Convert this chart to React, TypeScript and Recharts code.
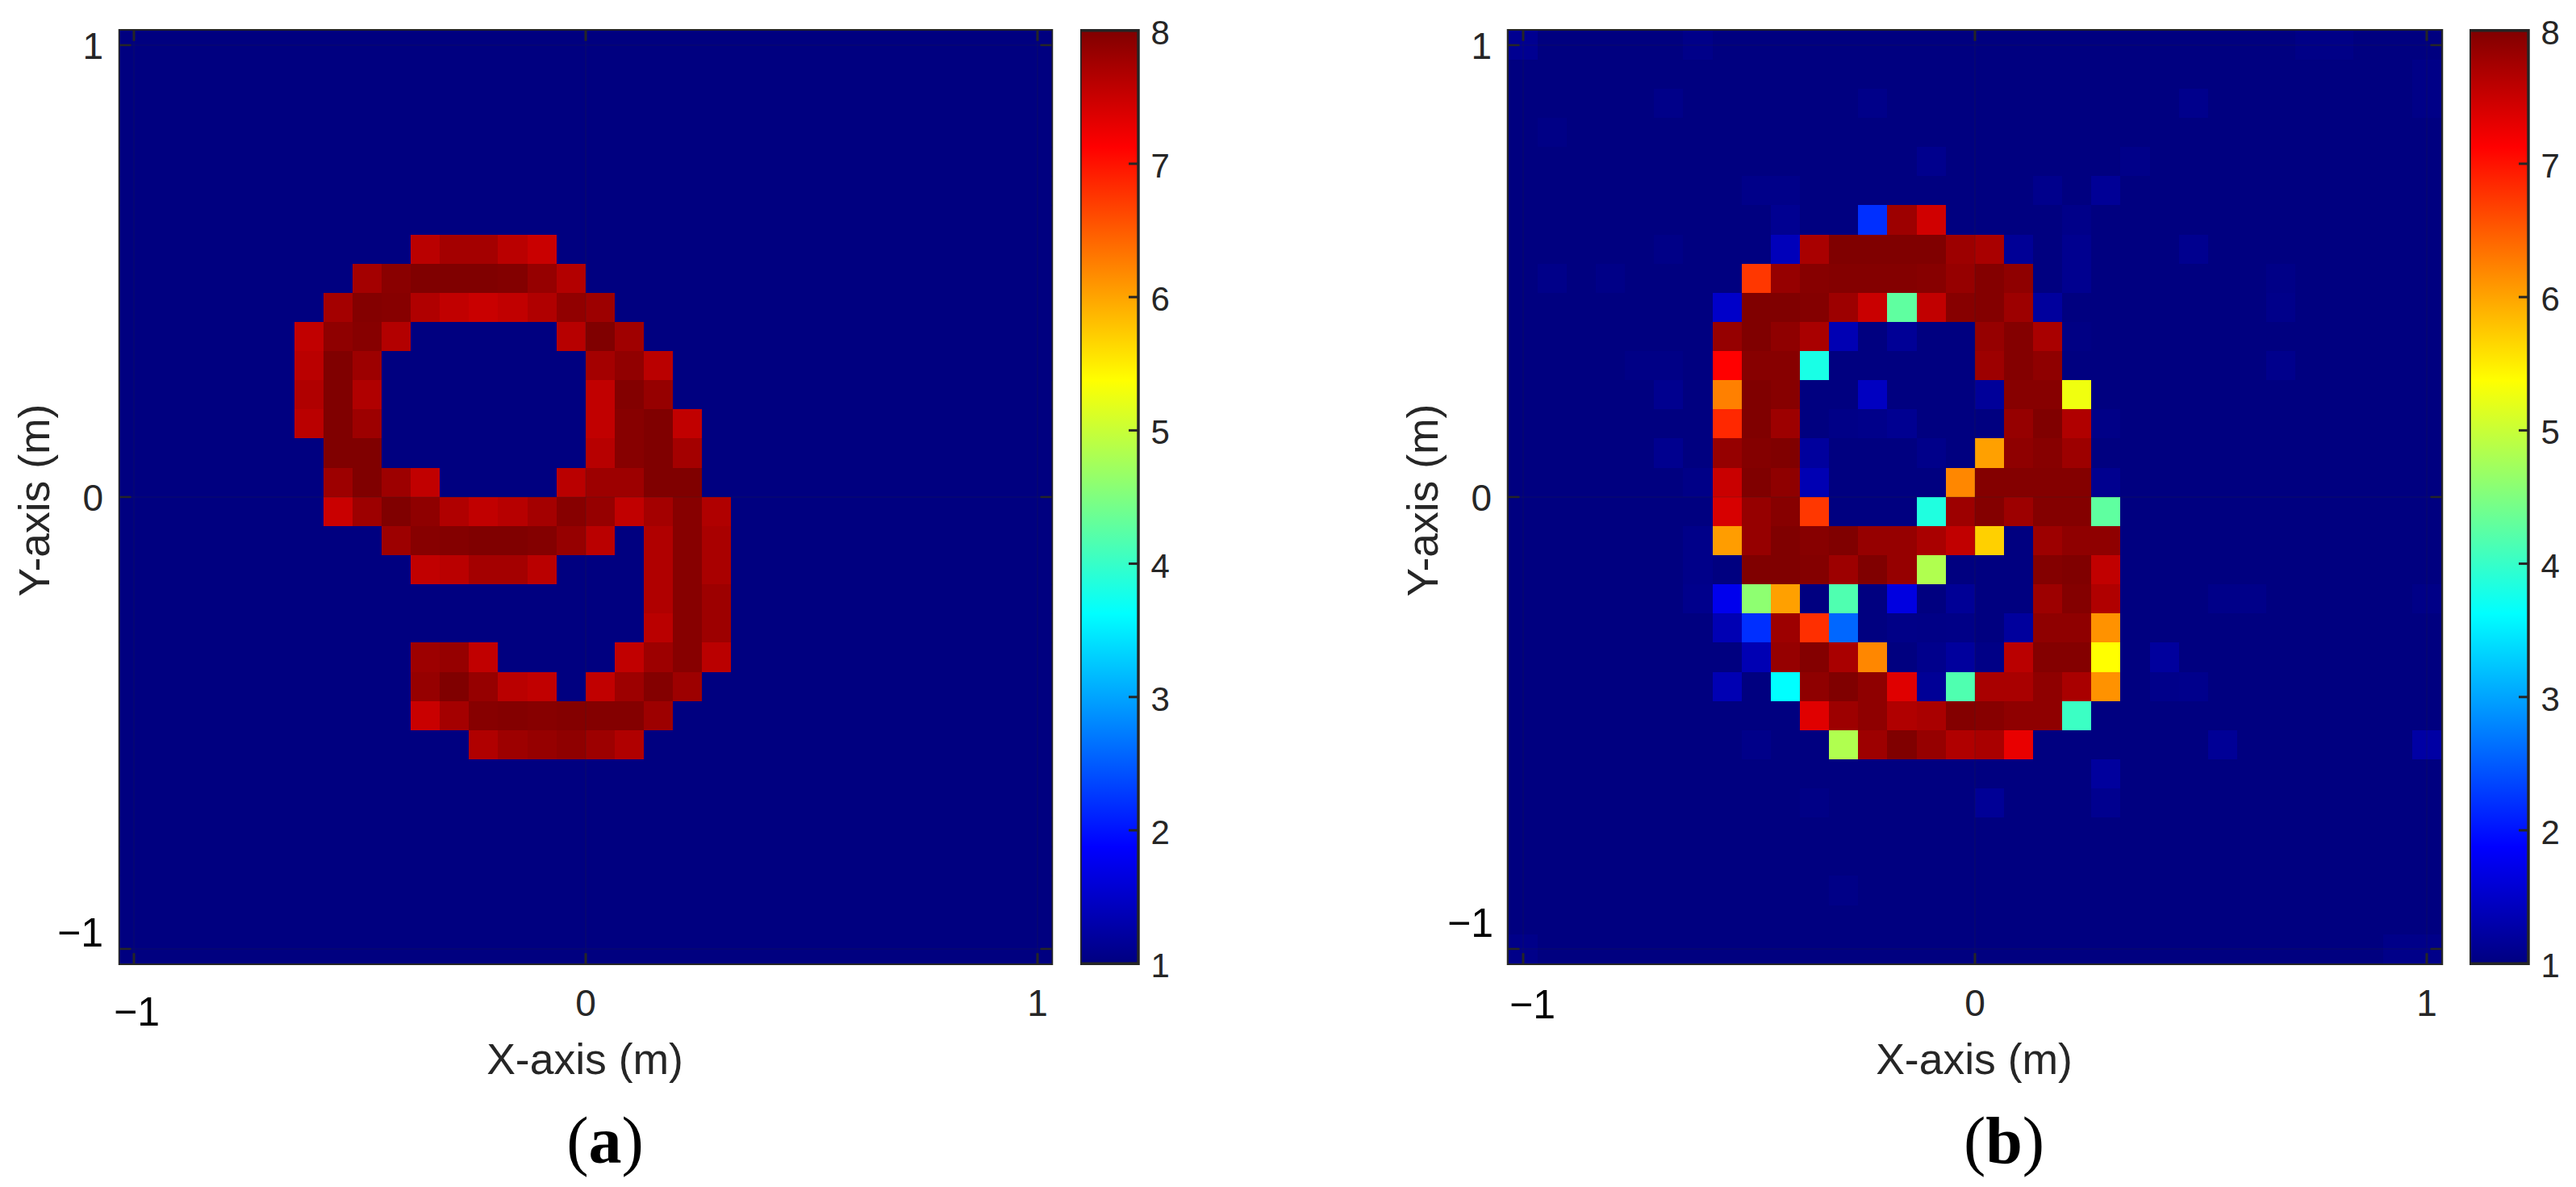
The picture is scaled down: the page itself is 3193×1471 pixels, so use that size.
import React from 'react'
import { ScatterChart, Scatter, XAxis, YAxis, BarChart, Bar, ReferenceArea } from 'recharts'

const PLOT_TOP = 37.7
const PLOT_BOTTOM = 1194.2
const PLOT_LEFT = 148.5
const PAGE_H = 1471
const INK = '#262626'

const axisTicks = [-1, 0, 1]
const colorTicks = [1, 2, 3, 4, 5, 6, 7, 8]
const colorRange = [{ name: 'c', range: [1, 8] }]

// panel (a): 32 x 32 pixels, top row first
const nineRows: number[][] = [
  [1,1,1,1,1,1,1,1, 1,1,1,1,1,1,1,1, 1,1,1,1,1,1,1,1, 1,1,1,1,1,1,1,1],
  [1,1,1,1,1,1,1,1, 1,1,1,1,1,1,1,1, 1,1,1,1,1,1,1,1, 1,1,1,1,1,1,1,1],
  [1,1,1,1,1,1,1,1, 1,1,1,1,1,1,1,1, 1,1,1,1,1,1,1,1, 1,1,1,1,1,1,1,1],
  [1,1,1,1,1,1,1,1, 1,1,1,1,1,1,1,1, 1,1,1,1,1,1,1,1, 1,1,1,1,1,1,1,1],
  [1,1,1,1,1,1,1,1, 1,1,1,1,1,1,1,1, 1,1,1,1,1,1,1,1, 1,1,1,1,1,1,1,1],
  [1,1,1,1,1,1,1,1, 1,1,1,1,1,1,1,1, 1,1,1,1,1,1,1,1, 1,1,1,1,1,1,1,1],
  [1,1,1,1,1,1,1,1, 1,1,1,1,1,1,1,1, 1,1,1,1,1,1,1,1, 1,1,1,1,1,1,1,1],
  [1,1,1,1,1,1,1,1, 1,1,7.6,7.75,7.75,7.6,7.5,1, 1,1,1,1,1,1,1,1, 1,1,1,1,1,1,1,1],
  [1,1,1,1,1,1,1,1, 7.75,7.93,8,8,8,7.98,7.85,7.65, 1,1,1,1,1,1,1,1, 1,1,1,1,1,1,1,1],
  [1,1,1,1,1,1,1,7.75, 7.97,7.95,7.67,7.55,7.5,7.55,7.67,7.88, 7.8,1,1,1,1,1,1,1, 1,1,1,1,1,1,1,1],
  [1,1,1,1,1,1,7.55,7.9, 7.95,7.65,1,1,1,1,1,7.62, 8,7.78,1,1,1,1,1,1, 1,1,1,1,1,1,1,1],
  [1,1,1,1,1,1,7.6,8, 7.8,1,1,1,1,1,1,1, 7.75,7.88,7.6,1,1,1,1,1, 1,1,1,1,1,1,1,1],
  [1,1,1,1,1,1,7.67,8, 7.67,1,1,1,1,1,1,1, 7.55,7.98,7.85,1,1,1,1,1, 1,1,1,1,1,1,1,1],
  [1,1,1,1,1,1,7.6,8, 7.8,1,1,1,1,1,1,1, 7.55,7.95,8,7.55,1,1,1,1, 1,1,1,1,1,1,1,1],
  [1,1,1,1,1,1,1,8, 8,1,1,1,1,1,1,1, 7.62,7.95,8,7.75,1,1,1,1, 1,1,1,1,1,1,1,1],
  [1,1,1,1,1,1,1,7.8, 8,7.8,7.55,1,1,1,1,7.6, 7.8,7.8,8,8,1,1,1,1, 1,1,1,1,1,1,1,1],
  [1,1,1,1,1,1,1,7.5, 7.8,8,7.9,7.67,7.55,7.62,7.75,7.95, 7.85,7.55,7.75,7.95,7.67,1,1,1, 1,1,1,1,1,1,1,1],
  [1,1,1,1,1,1,1,1, 1,7.8,7.95,7.97,8,8,7.97,7.85, 7.6,1,7.67,7.95,7.72,1,1,1, 1,1,1,1,1,1,1,1],
  [1,1,1,1,1,1,1,1, 1,1,7.55,7.6,7.75,7.75,7.6,1, 1,1,7.67,7.95,7.72,1,1,1, 1,1,1,1,1,1,1,1],
  [1,1,1,1,1,1,1,1, 1,1,1,1,1,1,1,1, 1,1,7.67,7.95,7.8,1,1,1, 1,1,1,1,1,1,1,1],
  [1,1,1,1,1,1,1,1, 1,1,1,1,1,1,1,1, 1,1,7.6,7.95,7.8,1,1,1, 1,1,1,1,1,1,1,1],
  [1,1,1,1,1,1,1,1, 1,1,7.8,7.85,7.55,1,1,1, 1,7.55,7.8,7.95,7.6,1,1,1, 1,1,1,1,1,1,1,1],
  [1,1,1,1,1,1,1,1, 1,1,7.85,8,7.85,7.6,7.55,1, 7.55,7.8,7.97,7.8,1,1,1,1, 1,1,1,1,1,1,1,1],
  [1,1,1,1,1,1,1,1, 1,1,7.5,7.75,7.95,7.97,7.95,7.97, 7.97,7.97,7.8,1,1,1,1,1, 1,1,1,1,1,1,1,1],
  [1,1,1,1,1,1,1,1, 1,1,1,1,7.67,7.8,7.85,7.9, 7.8,7.67,1,1,1,1,1,1, 1,1,1,1,1,1,1,1],
  [1,1,1,1,1,1,1,1, 1,1,1,1,1,1,1,1, 1,1,1,1,1,1,1,1, 1,1,1,1,1,1,1,1],
  [1,1,1,1,1,1,1,1, 1,1,1,1,1,1,1,1, 1,1,1,1,1,1,1,1, 1,1,1,1,1,1,1,1],
  [1,1,1,1,1,1,1,1, 1,1,1,1,1,1,1,1, 1,1,1,1,1,1,1,1, 1,1,1,1,1,1,1,1],
  [1,1,1,1,1,1,1,1, 1,1,1,1,1,1,1,1, 1,1,1,1,1,1,1,1, 1,1,1,1,1,1,1,1],
  [1,1,1,1,1,1,1,1, 1,1,1,1,1,1,1,1, 1,1,1,1,1,1,1,1, 1,1,1,1,1,1,1,1],
  [1,1,1,1,1,1,1,1, 1,1,1,1,1,1,1,1, 1,1,1,1,1,1,1,1, 1,1,1,1,1,1,1,1],
  [1,1,1,1,1,1,1,1, 1,1,1,1,1,1,1,1, 1,1,1,1,1,1,1,1, 1,1,1,1,1,1,1,1],
]

// panel (b): reconstruction, with faint noise in the background
const reconRows: number[][] = [
  [1.12,1,1,1,1,1,1.06,1, 1,1,1,1,1,1,1,1, 1,1,1,1,1,1,1,1, 1,1,1,1.05,1.05,1,1,1],
  [1,1,1,1,1,1,1,1, 1,1,1,1,1,1,1,1, 1,1,1,1,1,1,1,1, 1,1,1,1,1,1,1,1.05],
  [1,1,1,1,1,1.06,1,1, 1,1,1,1,1.06,1,1,1, 1,1,1,1,1,1,1,1.08, 1,1,1,1,1,1,1,1.05],
  [1,1.04,1,1,1,1,1,1, 1,1,1,1,1,1,1,1, 1,1,1,1,1,1,1,1, 1,1,1,1,1,1,1,1],
  [1,1,1,1,1,1,1,1, 1,1,1,1,1,1,1.09,1, 1,1,1,1,1,1.06,1,1, 1,1,1,1,1,1,1,1],
  [1,1,1,1,1,1,1,1, 1.06,1.06,1,1,1,1,1,1, 1,1,1.08,1,1.15,1,1,1, 1,1,1,1,1,1,1,1],
  [1,1,1,1,1,1,1,1, 1,1.12,1,1,2.2,7.8,7.45,1, 1,1,1,1.06,1,1,1,1, 1,1,1,1,1,1,1,1],
  [1,1,1,1,1,1.05,1,1, 1,1.4,7.72,8,8,8,8,7.8, 7.72,1.15,1,1.1,1,1,1,1.1, 1,1,1,1,1,1,1,1],
  [1,1.06,1,1.05,1,1,1,1, 6.75,7.85,7.95,7.97,7.97,7.97,7.95,7.85, 7.97,7.9,1,1.1,1,1,1,1, 1,1,1.05,1,1,1,1,1],
  [1,1,1,1,1,1,1,1.5, 8,8,7.97,7.8,7.5,4.28,7.55,7.95, 7.97,7.8,1.2,1,1,1,1,1, 1,1,1.07,1,1,1,1,1],
  [1,1,1,1,1,1,1,7.85, 8,7.9,7.72,1.35,1,1.15,1,1, 7.85,7.97,7.72,1.03,1,1,1,1, 1,1,1,1,1,1,1,1],
  [1,1,1,1,1.04,1.04,1,7.125, 7.95,7.95,3.8,1,1,1,1,1, 7.8,7.97,7.9,1,1,1,1,1, 1,1,1.08,1,1,1,1,1],
  [1,1,1,1,1,1.1,1,6.25, 8,7.95,1,1,1.45,1,1,1, 1.17,7.95,7.95,5.27,1,1,1,1, 1,1,1,1,1,1,1,1],
  [1,1,1,1,1,1,1,6.85, 8,7.8,1,1.05,1.07,1.12,1,1, 1,7.85,8,7.67,1.05,1,1,1, 1,1,1,1,1,1,1,1],
  [1,1,1,1,1,1.1,1,7.85, 7.97,8,1.2,1,1,1,1.07,1, 6.03,7.9,7.95,7.8,1,1,1,1, 1,1,1,1,1,1,1,1],
  [1,1,1,1,1,1,1.05,7.5, 8,7.9,1.35,1,1,1,1,6.2, 7.97,7.97,7.97,7.97,1.1,1,1,1, 1,1,1,1,1,1,1,1],
  [1,1,1,1,1,1,1,7.4, 7.85,7.95,6.75,1,1,1,3.84,7.8, 7.97,7.8,7.97,7.97,4.28,1,1,1, 1,1,1,1,1,1,1,1],
  [1,1,1,1,1,1,1.06,6.05, 7.85,8,7.95,8,7.85,7.85,7.72,7.55, 5.7,1,7.8,7.9,7.9,1,1,1, 1,1,1,1,1,1,1,1],
  [1,1,1,1,1,1,1.06,1, 8,8,7.97,7.8,8,7.85,4.83,1, 1,1,7.97,8,7.55,1,1,1, 1,1,1,1,1,1,1,1],
  [1,1,1,1,1,1,1.08,1.75, 4.6,6.03,1,4.17,1,1.66,1,1.15, 1,1,7.8,7.97,7.67,1,1,1, 1.06,1.06,1,1,1,1,1,1.05],
  [1,1,1,1,1,1,1,1.35, 2.2,7.8,6.8,2.58,1,1.05,1.04,1.05, 1,1.2,7.9,7.9,6.12,1,1,1, 1,1,1,1,1,1,1,1],
  [1,1,1,1,1,1,1,1, 1.35,7.85,7.97,7.72,6.2,1,1.08,1.2, 1.04,7.6,7.97,7.97,5.375,1,1.2,1, 1,1,1,1,1,1,1,1],
  [1,1,1,1,1,1,1,1.35, 1,3.625,7.9,8,7.9,7.34,1.15,4.17, 7.72,7.72,7.9,7.72,6.12,1,1.07,1.08, 1,1,1,1,1,1,1,1],
  [1,1,1,1,1,1,1,1, 1,1,7.34,7.8,7.9,7.67,7.72,7.97, 7.95,7.9,7.9,4.03,1,1,1,1, 1,1,1,1,1,1,1,1],
  [1,1,1,1,1,1,1,1, 1.06,1,1,4.83,7.8,8,7.85,7.67, 7.72,7.28,1,1,1,1,1,1, 1.15,1,1,1,1,1,1,1.25],
  [1,1,1,1,1,1,1,1, 1,1,1,1,1,1,1,1, 1,1,1,1,1.2,1,1,1, 1,1,1,1,1,1,1,1],
  [1,1,1,1,1,1,1,1, 1,1,1.04,1,1,1,1,1, 1.15,1,1,1,1.1,1,1,1, 1,1,1,1,1,1,1,1],
  [1,1,1,1,1,1,1,1, 1,1,1,1,1,1,1,1, 1,1,1,1,1,1,1,1, 1,1,1,1,1,1,1,1],
  [1,1,1,1,1,1,1,1, 1,1,1,1,1,1,1,1, 1,1,1,1,1,1,1,1, 1,1,1,1,1,1,1,1],
  [1,1,1,1,1,1,1,1, 1,1,1,1.05,1,1,1,1, 1,1,1,1,1,1,1,1, 1,1,1,1,1,1,1,1],
  [1,1,1,1,1,1,1,1, 1,1,1,1,1,1,1,1, 1,1,1,1,1,1,1,1, 1,1,1,1,1,1,1,1],
  [1.06,1,1,1,1,1,1,1, 1,1,1,1,1,1,1,1, 1,1,1,1,1,1,1,1, 1,1,1,1,1,1,1.06,1.06],
]

const jetStops: [number, number[]][] = [
  [0, [0, 0, 128]],
  [0.125, [0, 0, 255]],
  [0.375, [0, 255, 255]],
  [0.625, [255, 255, 0]],
  [0.875, [255, 0, 0]],
  [1, [128, 0, 0]],
]

function jetColor(value: number) {
  const t = (value - 1) / 7
  for (let i = 1; i < jetStops.length; i++) {
    const [t0, c0] = jetStops[i - 1]
    const [t1, c1] = jetStops[i]
    if (t <= t1) {
      const k = (t - t0) / (t1 - t0)
      return `rgb(${c0.map((c, j) => Math.round(c + (c1[j] - c) * k)).join(',')})`
    }
  }
  return 'rgb(128,0,0)'
}

function toCells(rows: number[][]) {
  return rows.flatMap((row, r) =>
    row.map((value, c) => ({ x: -1 + (c * 2) / 31, y: 1 - (r * 2) / 31, value }))
  )
}

const labelFont = { fontFamily: 'Liberation Sans', fill: INK }
const minusFont = { fontFamily: 'Liberation Sans', fill: '#000' }

interface PanelProps {
  rows: number[][]
  left: number
  width: number
  xDomain: number
  yDomain: number
  letter: string
  captionX: number
  minusXShift: number
  minusXBase: number
  minusYEnd: number
  minusYBase: number
}

function HeatmapPanel(props: PanelProps) {
  const { rows, left, width, xDomain, yDomain, letter, captionX } = props
  const { minusXShift, minusXBase, minusYEnd, minusYBase } = props
  const plotRight = PLOT_LEFT + width
  const midX = PLOT_LEFT + width / 2 - 1
  const cellW = (xDomain > 1 ? 36.13 : 36.13) + 0.4
  const cellH = 36.13 + 0.4

  const renderCell = (p: any) => (
    <rect
      x={p.cx - cellW / 2}
      y={p.cy - cellH / 2}
      width={cellW}
      height={cellH}
      fill={jetColor(p.payload.value)}
      shapeRendering="crispEdges"
    />
  )

  const xTick = ({ x, payload }: any) => {
    const minus = payload.value < 0
    return (
      <g>
        <line x1={x} x2={x} y1={PLOT_TOP} y2={PLOT_BOTTOM} stroke={INK} strokeOpacity={0.18} strokeWidth={1.5} />
        <line x1={x} x2={x} y1={PLOT_TOP} y2={PLOT_TOP + 13} stroke={INK} strokeWidth={3} />
        <line x1={x} x2={x} y1={PLOT_BOTTOM - 13} y2={PLOT_BOTTOM} stroke={INK} strokeWidth={3} />
        {minus ? (
          <text x={x + minusXShift} y={minusXBase} textAnchor="middle" fontSize={50} {...minusFont}>
            {`\u2212${-payload.value}`}
          </text>
        ) : (
          <text x={x} y={1259} textAnchor="middle" fontSize={46} {...labelFont}>
            {payload.value}
          </text>
        )}
      </g>
    )
  }

  const yTick = ({ y, payload }: any) => {
    const minus = payload.value < 0
    return (
      <g>
        <line x1={PLOT_LEFT} x2={plotRight} y1={y} y2={y} stroke={INK} strokeOpacity={0.18} strokeWidth={1.5} />
        <line x1={PLOT_LEFT} x2={PLOT_LEFT + 14} y1={y} y2={y} stroke={INK} strokeWidth={2.5} />
        <line x1={plotRight - 14} x2={plotRight} y1={y} y2={y} stroke={INK} strokeWidth={2.5} />
        {minus ? (
          <text x={minusYEnd} y={minusYBase} textAnchor="end" fontSize={50} {...minusFont}>
            {`\u2212${-payload.value}`}
          </text>
        ) : (
          <text x={128} y={y + 17} textAnchor="end" fontSize={46} {...labelFont}>
            {payload.value}
          </text>
        )}
      </g>
    )
  }

  return (
    <div style={{ position: 'absolute', left, top: 0 }}>
      <ScatterChart
        width={plotRight + 20}
        height={PAGE_H}
        margin={{ top: PLOT_TOP, right: 20, bottom: 0, left: 0 }}
      >
        <Scatter data={toCells(rows)} dataKey="value" shape={renderCell} isAnimationActive={false} />
        <XAxis
          type="number"
          dataKey="x"
          domain={[-xDomain, xDomain]}
          ticks={axisTicks}
          height={PAGE_H - PLOT_BOTTOM}
          tick={xTick}
          tickLine={false}
          tickSize={0}
          axisLine={false}
          allowDataOverflow
          label={{
            content: () => (
              <text x={midX} y={1331} textAnchor="middle" fontSize={53.5} {...labelFont}>
                X-axis (m)
              </text>
            ),
          }}
        />
        <YAxis
          type="number"
          dataKey="y"
          domain={[-yDomain, yDomain]}
          ticks={axisTicks}
          width={PLOT_LEFT}
          tick={yTick}
          tickLine={false}
          tickSize={0}
          axisLine={false}
          allowDataOverflow
          label={{
            content: () => (
              <text
                x={61}
                y={620}
                transform="rotate(-90 61 620)"
                textAnchor="middle"
                fontSize={53.5}
                {...labelFont}
              >
                Y-axis (m)
              </text>
            ),
          }}
        />
        <ReferenceArea
          x1={-xDomain}
          x2={xDomain}
          y1={-yDomain}
          y2={yDomain}
          fill="none"
          stroke={INK}
          strokeWidth={3.5}
          ifOverflow="visible"
        />
      </ScatterChart>
      <div
        style={{
          position: 'absolute',
          left: captionX - 100,
          width: 200,
          top: 1368,
          textAlign: 'center',
          fontFamily: 'Liberation Serif',
          fontSize: 82,
          lineHeight: '92px',
          color: '#000',
        }}
      >
        (<b>{letter}</b>)
      </div>
    </div>
  )
}

function ColorBar({ left, width }: { left: number; width: number }) {
  const colorTick = ({ x, y, payload }: any) => (
    <g>
      <line x1={x - 12} x2={x} y1={y} y2={y} stroke={INK} strokeWidth={3} />
      <text x={x + 15.5} y={y + 17} fontSize={42} {...labelFont}>
        {payload.value}
      </text>
    </g>
  )

  return (
    <div style={{ position: 'absolute', left, top: 0 }}>
      <BarChart
        width={width + 70}
        height={PAGE_H}
        data={colorRange}
        barCategoryGap={0}
        margin={{ top: PLOT_TOP, right: 0, bottom: PAGE_H - PLOT_BOTTOM, left: 0 }}
      >
        <defs>
          <linearGradient id={`jet-${width}`} x1="0" y1="1" x2="0" y2="0">
            {jetStops.map(([t, c]) => (
              <stop key={t} offset={t} stopColor={`rgb(${c.join(',')})`} />
            ))}
          </linearGradient>
        </defs>
        <Bar
          dataKey="range"
          fill={`url(#jet-${width})`}
          stroke={INK}
          strokeWidth={3.5}
          isAnimationActive={false}
        />
        <XAxis dataKey="name" hide />
        <YAxis
          orientation="right"
          type="number"
          domain={[1, 8]}
          ticks={colorTicks}
          width={70}
          tick={colorTick}
          tickLine={false}
          tickSize={0}
          axisLine={false}
          tickMargin={0}
          interval={0}
        />
      </BarChart>
    </div>
  )
}

export default function App() {
  return (
    <div style={{ position: 'absolute', left: 0, top: 0, width: 3193, height: PAGE_H, background: '#fff', overflow: 'hidden' }}>
      <HeatmapPanel
        rows={nineRows}
        left={0}
        width={1155}
        xDomain={1.03125}
        yDomain={1.0326}
        letter="a"
        captionX={750}
        minusXShift={3.5}
        minusXBase={1271}
        minusYEnd={128}
        minusYBase={1173}
      />
      <ColorBar left={1338.5} width={72} />
      <HeatmapPanel
        rows={reconRows}
        left={1721}
        width={1157}
        xDomain={1.033}
        yDomain={1.0326}
        letter="b"
        captionX={763}
        minusXShift={11.5}
        minusXBase={1262}
        minusYEnd={130}
        minusYBase={1161}
      />
      <ColorBar left={3060.5} width={73} />
    </div>
  )
}
